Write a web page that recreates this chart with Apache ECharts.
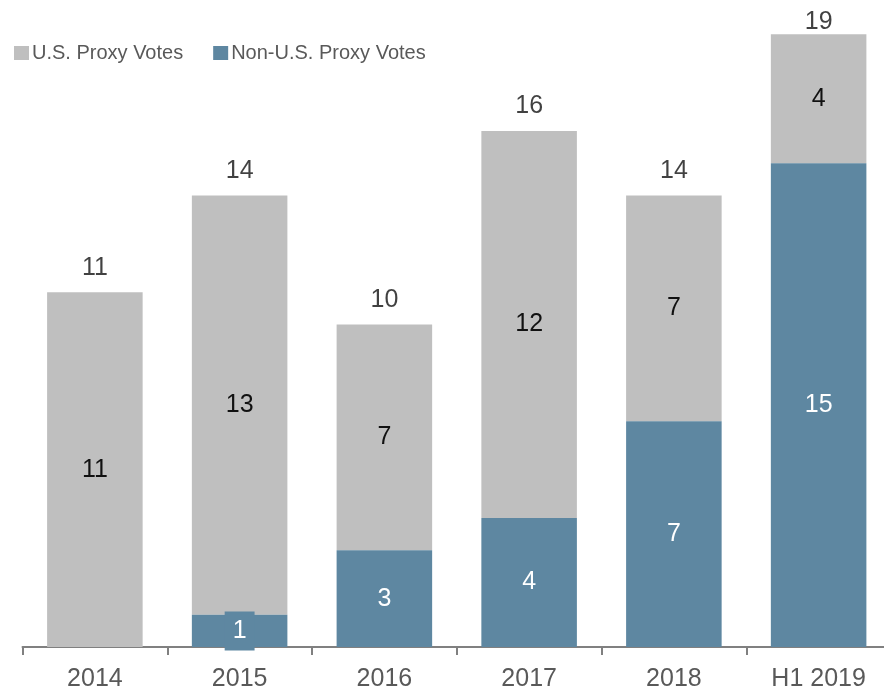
<!DOCTYPE html>
<html>
<head>
<meta charset="utf-8">
<script src="https://cdn.jsdelivr.net/npm/echarts@6/dist/echarts.min.js"></script>
<style>
  html, body { margin: 0; padding: 0; background: #fff; }
  #chart { width: 884px; height: 690px; }
</style>
</head>
<body>
<div id="chart"></div>
<script>
// Proxy votes per year, split by U.S. and non-U.S.
const categories = ['2014', '2015', '2016', '2017', '2018', 'H1 2019'];
const nonUsVotes = [0, 1, 3, 4, 7, 15];
const usVotes = [11, 13, 7, 12, 7, 4];
const totals = [11, 14, 10, 16, 14, 19];

const FONT = "'Liberation Sans', Arial, sans-serif";
const GREY = '#bfbfbf';
const BLUE = '#5e87a1';

const chart = echarts.init(document.getElementById('chart'), null, { renderer: 'canvas' });

// Small segment labels get a box in the bar colour so they stay readable
const nonUsData = nonUsVotes.map(v => {
  if (v === 0) return { value: v, label: { show: false } };
  if (v < 2) {
    return {
      value: v,
      label: { backgroundColor: BLUE, padding: [7, 8, 7, 8], lineHeight: 25 }
    };
  }
  return v;
});

// Totals above each stack; the last one sits closer to the top edge
const totalData = totals.map((v, i) => {
  if (i === totals.length - 1) return { value: v, label: { distance: 0 } };
  return v;
});

const segmentLabel = (color) => ({
  show: true,
  position: 'inside',
  color: color,
  fontSize: 25,
  fontFamily: FONT,
  textBorderWidth: 0
});

chart.setOption({
  animation: false,
  textStyle: { fontFamily: FONT },
  legend: {
    left: 9,
    top: 38,
    itemWidth: 15,
    itemHeight: 14,
    itemGap: 30,
    icon: 'rect',
    data: ['U.S. Proxy Votes', 'Non-U.S. Proxy Votes'],
    textStyle: { fontSize: 20, color: '#595959', fontFamily: FONT, padding: [0, 0, 0, -2] }
  },
  grid: {
    left: 22.5,
    right: -7,
    top: 2,
    bottom: 43,
    containLabel: false,
    outerBoundsMode: 'none'
  },
  xAxis: {
    type: 'category',
    data: categories,
    boundaryGap: true,
    axisLine: { lineStyle: { color: '#808080', width: 2 } },
    axisTick: { show: true, length: 8, lineStyle: { color: '#808080', width: 2 } },
    axisLabel: { fontSize: 25, color: '#595959', margin: 20, fontFamily: FONT }
  },
  yAxis: {
    type: 'value',
    min: 0,
    max: 20,
    show: false,
    splitLine: { show: false }
  },
  series: [
    {
      name: 'Non-U.S. Proxy Votes',
      type: 'bar',
      stack: 'votes',
      barWidth: '66%',
      itemStyle: { color: BLUE },
      label: segmentLabel('#ffffff'),
      data: nonUsData,
      z: 2
    },
    {
      name: 'U.S. Proxy Votes',
      type: 'bar',
      stack: 'votes',
      barWidth: '66%',
      itemStyle: { color: GREY },
      label: segmentLabel('#111111'),
      data: usVotes,
      z: 1
    },
    {
      name: 'Total',
      type: 'scatter',
      symbolSize: 0,
      silent: true,
      label: {
        show: true,
        position: 'top',
        distance: 12,
        color: '#111111',
        fontSize: 25,
        fontFamily: FONT
      },
      data: totalData,
      z: 5
    }
  ]
});
</script>
</body>
</html>
